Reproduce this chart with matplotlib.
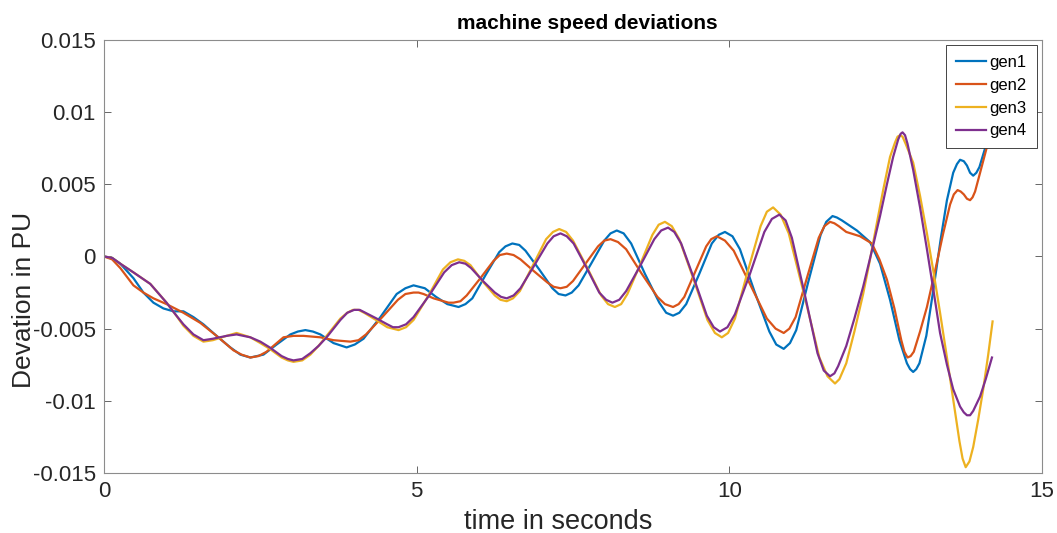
import matplotlib
matplotlib.use('Agg')
import matplotlib.pyplot as plt

plt.rcParams['font.family'] = ['Liberation Sans', 'DejaVu Sans']

# values (time in s, deviation in PU)
gen1_t = [0, 0.13, 0.26, 0.47, 0.63, 0.79, 0.95, 1.11, 1.27, 1.43, 1.59, 1.8, 2.02, 2.18, 2.34,
          2.55, 2.76, 2.98, 3.1, 3.22, 3.34, 3.46, 3.67, 3.88, 4.01, 4.15, 4.42, 4.68, 4.82, 4.95,
          5.04, 5.13, 5.31, 5.49, 5.58, 5.67, 5.78, 5.89, 6.10, 6.32, 6.42, 6.53, 6.64, 6.74, 6.96,
          7.17, 7.27, 7.38, 7.48, 7.59, 7.79, 8.0, 8.1, 8.2, 8.31, 8.43, 8.65, 8.88, 8.99, 9.1, 9.2,
          9.31, 9.52, 9.72, 9.83, 9.93, 10.05, 10.17, 10.4, 10.64, 10.75, 10.87, 10.97, 11.07,
          11.26, 11.46, 11.55, 11.65, 11.72, 11.8, 12.04, 12.25, 12.41, 12.57, 12.72, 12.84, 12.89,
          12.94, 12.99, 13.04, 13.15, 13.27, 13.38, 13.48, 13.58, 13.64, 13.69, 13.75, 13.8, 13.85,
          13.9, 13.95, 14.0, 14.09, 14.18]
gen1_v = [0, -0.0001, -0.0005, -0.0015, -0.0025, -0.0032, -0.0036, -0.0038, -0.0038, -0.0042,
          -0.0047, -0.0055, -0.0063, -0.0068, -0.0070, -0.0068, -0.0061, -0.0054, -0.0052, -0.0051,
          -0.0052, -0.0054, -0.0060, -0.0063, -0.0061, -0.0057, -0.0042, -0.0026, -0.0022, -0.0020,
          -0.0021, -0.0022, -0.0028, -0.0033, -0.0034, -0.0035, -0.0033, -0.0029, -0.0013, 0.0003,
          0.0007, 0.0009, 0.0008, 0.0004, -0.0009, -0.0022, -0.0026, -0.0027, -0.0025, -0.0020,
          -0.0005, 0.0011, 0.0016, 0.0018, 0.0016, 0.0009, -0.0012, -0.0032, -0.0039, -0.0041,
          -0.0039, -0.0033, -0.0012, 0.0009, 0.0015, 0.0017, 0.0014, 0.0005, -0.0024, -0.0052,
          -0.0061, -0.0064, -0.0060, -0.0051, -0.0018, 0.0015, 0.0024, 0.0028, 0.0027, 0.0025,
          0.0018, 0.0010, -0.0005, -0.0030, -0.0058, -0.0074, -0.0078, -0.0080, -0.0078, -0.0074,
          -0.0055, -0.0021, 0.0012, 0.0039, 0.0058, 0.0064, 0.0067, 0.0066, 0.0063, 0.0058, 0.0056,
          0.0058, 0.0062, 0.0075, 0.0090]

gen2_t = [0, 0.13, 0.26, 0.47, 0.63, 0.79, 1.0, 1.27, 1.54, 1.8, 2.07, 2.2, 2.34, 2.47, 2.6,
          2.87, 3.03, 3.19, 3.46, 3.67, 3.94, 4.07, 4.19, 4.45, 4.7, 4.82, 4.95, 5.03, 5.11, 5.27,
          5.43, 5.51, 5.59, 5.70, 5.8, 6.02, 6.23, 6.33, 6.44, 6.55, 6.66, 6.87, 7.09, 7.19, 7.3,
          7.4, 7.5, 7.7, 7.9, 8.0, 8.1, 8.22, 8.35, 8.6, 8.85, 8.97, 9.1, 9.19, 9.28, 9.45, 9.63,
          9.71, 9.8, 9.93, 10.07, 10.34, 10.6, 10.74, 10.87, 10.96, 11.06, 11.24, 11.43, 11.52,
          11.61, 11.68, 11.75, 11.87, 12.09, 12.28, 12.4, 12.52, 12.64, 12.75, 12.8, 12.85, 12.9,
          12.95, 13.05, 13.16, 13.29, 13.42, 13.53, 13.59, 13.65, 13.7, 13.75, 13.8, 13.85, 13.89,
          13.93, 14.01, 14.12, 14.18]
gen2_v = [0, -0.0002, -0.0008, -0.0020, -0.0025, -0.0029, -0.0033, -0.0039, -0.0046, -0.0055,
          -0.0065, -0.0068, -0.0070, -0.0069, -0.0066, -0.0056, -0.0055, -0.0055, -0.0056, -0.0058,
          -0.0059, -0.0058, -0.0054, -0.0042, -0.0030, -0.0026, -0.0025, -0.0025, -0.0026, -0.0029,
          -0.0031, -0.0032, -0.0032, -0.0031, -0.0027, -0.0015, -0.0003, 0.0001, 0.0002, 0.0001,
          -0.0002, -0.0010, -0.0018, -0.0021, -0.0022, -0.0021, -0.0017, -0.0005, 0.0007, 0.0011,
          0.0012, 0.0010, 0.0005, -0.0012, -0.0028, -0.0033, -0.0035, -0.0033, -0.0028, -0.0011,
          0.0007, 0.0012, 0.0014, 0.0011, 0.0004, -0.0020, -0.0043, -0.0050, -0.0053, -0.0050,
          -0.0042, -0.0015, 0.0013, 0.0021, 0.0024, 0.0023, 0.0021, 0.0017, 0.0014, 0.0009,
          -0.0002, -0.0016, -0.0036, -0.0058, -0.0066, -0.0070, -0.0069, -0.0066, -0.0052, -0.0035,
          -0.0010, 0.0016, 0.0036, 0.0043, 0.0046, 0.0045, 0.0043, 0.0040, 0.0039, 0.0041, 0.0045,
          0.0058, 0.0076, 0.0086]

gen3_t = [0, 0.13, 0.26, 0.47, 0.74, 1.0, 1.14, 1.27, 1.43, 1.59, 1.74, 1.96, 2.12, 2.34, 2.5,
          2.65, 2.84, 2.94, 3.03, 3.17, 3.3, 3.43, 3.56, 3.67, 3.78, 3.89, 3.98, 4.07, 4.16, 4.35,
          4.53, 4.62, 4.71, 4.83, 4.95, 5.19, 5.42, 5.54, 5.66, 5.76, 5.86, 6.05, 6.25, 6.34, 6.44,
          6.54, 6.65, 6.86, 7.07, 7.18, 7.28, 7.39, 7.5, 7.73, 7.95, 8.06, 8.17, 8.27, 8.37, 8.57,
          8.77, 8.87, 8.97, 9.08, 9.2, 9.43, 9.65, 9.77, 9.88, 9.98, 10.09, 10.29, 10.5, 10.6,
          10.7, 10.82, 10.95, 11.2, 11.44, 11.57, 11.69, 11.76, 11.87, 12.0, 12.14, 12.25, 12.35,
          12.46, 12.57, 12.65, 12.69, 12.73, 12.77, 12.82, 12.94, 13.05, 13.16, 13.27, 13.37,
          13.48, 13.58, 13.68, 13.73, 13.78, 13.84, 13.9, 13.98, 14.06, 14.14, 14.21]
gen3_v = [0, -0.0001, -0.0005, -0.0011, -0.0019, -0.0032, -0.0040, -0.0048, -0.0055, -0.0059,
          -0.0058, -0.0055, -0.0053, -0.0056, -0.0060, -0.0064, -0.0070, -0.0072, -0.0073, -0.0072,
          -0.0068, -0.0062, -0.0055, -0.0049, -0.0043, -0.0039, -0.0037, -0.0037, -0.0039, -0.0044,
          -0.0049, -0.0050, -0.0051, -0.0049, -0.0044, -0.0027, -0.0009, -0.0004, -0.0002, -0.0003,
          -0.0006, -0.0017, -0.0027, -0.0030, -0.0031, -0.0029, -0.0024, -0.0006, 0.0012, 0.0017,
          0.0019, 0.0017, 0.0011, -0.0008, -0.0027, -0.0033, -0.0035, -0.0033, -0.0026, -0.0006,
          0.0015, 0.0022, 0.0024, 0.0021, 0.0012, -0.0016, -0.0044, -0.0053, -0.0056, -0.0053,
          -0.0043, -0.0011, 0.0021, 0.0031, 0.0034, 0.0029, 0.0016, -0.0027, -0.0070, -0.0083,
          -0.0088, -0.0085, -0.0074, -0.0052, -0.0026, -0.0002, 0.0021, 0.0046, 0.0069, 0.0079,
          0.0083, 0.0084, 0.0083, 0.0078, 0.0065, 0.0042, 0.0016, -0.0012, -0.0039, -0.0070,
          -0.0099, -0.0128, -0.0140, -0.0146, -0.0142, -0.0132, -0.0113, -0.0092, -0.0068, -0.0045]

gen4_t = [0, 0.13, 0.26, 0.47, 0.74, 1.0, 1.14, 1.27, 1.43, 1.59, 1.74, 1.96, 2.12, 2.34, 2.5,
          2.65, 2.84, 2.94, 3.03, 3.17, 3.3, 3.43, 3.56, 3.67, 3.78, 3.89, 4.0, 4.09, 4.18, 4.36,
          4.53, 4.62, 4.71, 4.83, 4.95, 5.2, 5.44, 5.56, 5.68, 5.78, 5.87, 6.06, 6.25, 6.35, 6.44,
          6.55, 6.66, 6.87, 7.09, 7.19, 7.3, 7.4, 7.51, 7.72, 7.92, 8.03, 8.13, 8.24, 8.35, 8.58,
          8.8, 8.91, 9.02, 9.12, 9.23, 9.44, 9.64, 9.75, 9.85, 9.97, 10.09, 10.33, 10.56, 10.68,
          10.8, 10.9, 11.0, 11.21, 11.41, 11.51, 11.61, 11.68, 11.74, 11.87, 12.0, 12.14, 12.28,
          12.41, 12.52, 12.62, 12.7, 12.74, 12.77, 12.81, 12.85, 12.94, 13.05, 13.16, 13.27, 13.37,
          13.48, 13.58, 13.69, 13.75, 13.8, 13.85, 13.9, 14.01, 14.1, 14.2]
gen4_v = [0, -0.0001, -0.0005, -0.0011, -0.0019, -0.0032, -0.0040, -0.0047, -0.0054, -0.0058,
          -0.0057, -0.0055, -0.0054, -0.0056, -0.0059, -0.0063, -0.0069, -0.0071, -0.0072, -0.0071,
          -0.0067, -0.0062, -0.0056, -0.0050, -0.0044, -0.0039, -0.0037, -0.0037, -0.0039, -0.0043,
          -0.0047, -0.0049, -0.0049, -0.0047, -0.0042, -0.0027, -0.0011, -0.0006, -0.0004, -0.0005,
          -0.0008, -0.0017, -0.0025, -0.0028, -0.0029, -0.0027, -0.0022, -0.0007, 0.0009, 0.0014,
          0.0016, 0.0014, 0.0009, -0.0008, -0.0025, -0.0030, -0.0032, -0.0030, -0.0024, -0.0006,
          0.0012, 0.0018, 0.0020, 0.0017, 0.0009, -0.0016, -0.0041, -0.0049, -0.0052, -0.0049,
          -0.0040, -0.0012, 0.0017, 0.0026, 0.0029, 0.0025, 0.0013, -0.0027, -0.0067, -0.0079,
          -0.0083, -0.0081, -0.0076, -0.0062, -0.0043, -0.0021, 0.0004, 0.0028, 0.0050, 0.0069,
          0.0081, 0.0085, 0.0086, 0.0084, 0.0078, 0.0060, 0.0034, 0.0005, -0.0025, -0.0053,
          -0.0075, -0.0092, -0.0104, -0.0108, -0.0110, -0.0110, -0.0107, -0.0097, -0.0085, -0.0070]

labels = ['gen1', 'gen2', 'gen3', 'gen4']
colors = ['#0072BD', '#D95319', '#EDB120', '#7E2F8E']
x_ticks = [0, 5, 10, 15]
y_ticks = [-0.015, -0.01, -0.005, 0, 0.005, 0.01, 0.015]
y_tick_labels = ['-0.015', '-0.01', '-0.005', '0', '0.005', '0.01', '0.015']

fig = plt.figure(figsize=(10.57, 5.33), dpi=100)
ax = fig.add_axes([0.0984, 0.1126, 0.8874, 0.8124])

series = [(gen1_t, gen1_v), (gen2_t, gen2_v), (gen3_t, gen3_v), (gen4_t, gen4_v)]
for (t, v), lab, c in zip(series, labels, colors):
    ax.plot(t, v, color=c, linewidth=1.6, label=lab, solid_joinstyle='round')

ax.set_xlim(0, 15)
ax.set_ylim(-0.015, 0.015)
ax.set_xticks(x_ticks)
ax.set_xticklabels([str(x) for x in x_ticks])
ax.set_yticks(y_ticks)
ax.set_yticklabels(y_tick_labels)

txt = '#262626'
ax.tick_params(direction='in', top=True, right=True, length=5, width=0.6,
               color='0.3', labelsize=16, labelcolor=txt, pad=6)
for s in ax.spines.values():
    s.set_color('0.55')
    s.set_linewidth(0.8)

ax.set_xlabel('time in seconds', fontsize=19.5, color=txt)
ax.xaxis.set_label_coords(0.484, -0.083)
ax.set_ylabel('Devation in PU', fontsize=19, color=txt)
ax.yaxis.set_label_coords(-0.073, 0.40)
ax.set_title('machine speed deviations', fontsize=15, fontweight='bold', color='black',
             x=0.515, pad=8)

leg = ax.legend(loc='upper right', fontsize=12, fancybox=False, framealpha=1,
                edgecolor='0.15', borderaxespad=0.3, handlelength=1.8,
                handletextpad=0.2, borderpad=0.6, labelspacing=0.47)
leg.get_frame().set_linewidth(0.6)
leg.set_zorder(5)

fig.savefig('out.png', dpi=100)
